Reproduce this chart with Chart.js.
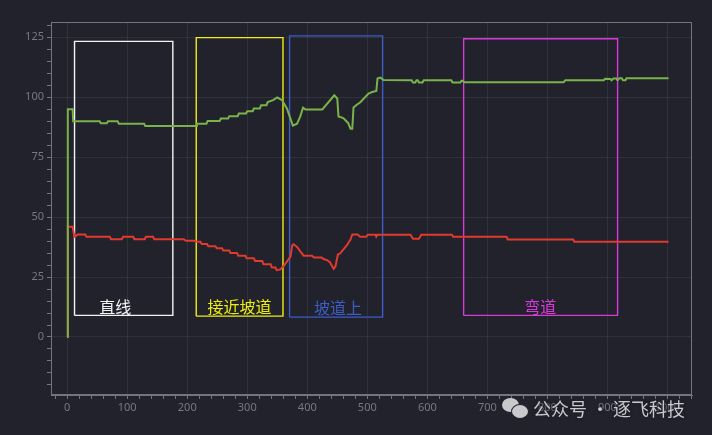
<!DOCTYPE html>
<html>
<head>
<meta charset="utf-8">
<script src="https://cdn.jsdelivr.net/npm/chart.js@4/dist/chart.umd.min.js"></script>
<style>
  html, body { margin: 0; padding: 0; background: #22222d; }
  #wrap { position: relative; width: 712px; height: 435px; }
  #wm { position: absolute; left: 502px; top: 396px; height: 24px; font-family: "Noto Sans CJK SC", sans-serif;
        font-size: 18px; color: #c9c9cc; white-space: nowrap; line-height: 24px; }
  .b1 { position:absolute; left:0; top:2px; width:17px; height:14px; border-radius:50%; background:#c9c9cc; }
  .b2 { position:absolute; left:9px; top:8px; width:16px; height:13px; border-radius:50%; background:#c9c9cc; border:1px solid #22222d; }
  #wmt { position:absolute; left:31px; top:0; text-shadow: 0 0 3px #22222d, 0 0 3px #22222d; }
</style>
</head>
<body>
<div id="wrap">
  <canvas id="c" width="712" height="435"></canvas>
  <div id="wm"><div class="b1"></div><div class="b2"></div><span id="wmt">公众号 · 逐飞科技</span></div>
</div>
<script>
// ---- data ----
const greenX = [0, 1, 9, 10, 54, 56, 66, 68, 84, 86, 128, 130, 215, 216, 232, 234, 254, 256, 268, 270, 284, 286, 298, 300, 309, 311, 321, 323, 332, 334, 343, 350, 358, 366, 376, 383, 388, 393, 397, 425, 445, 450, 452, 460, 468, 472, 475, 477, 483, 488, 502, 508, 515, 517, 522, 527, 574, 576, 580, 582, 584, 586, 592, 594, 640, 642, 655, 657, 659, 661, 827, 830, 894, 896, 905, 907, 910, 915, 917, 920, 924, 926, 930, 932, 1002];
const greenY = [0, 95, 95, 90, 90, 89.2, 89.2, 90, 90, 89, 89, 88, 88, 89, 89, 90.1, 90.1, 91.1, 91.1, 92.1, 92.1, 93.2, 93.2, 94.2, 94.2, 95.3, 95.3, 96.7, 96.7, 98, 98.8, 99.9, 98.8, 95.3, 88.2, 89, 91.8, 95.7, 94.9, 94.9, 100.8, 99.5, 92, 91.3, 89.3, 86.9, 86.9, 95.7, 97, 97.8, 101.5, 102.2, 102.6, 107.8, 108.2, 107.2, 107.1, 106.2, 106.2, 107.1, 107.1, 106.2, 106.2, 107.1, 107.1, 106.2, 106.2, 106.9, 106.9, 106.3, 106.3, 107.1, 107.1, 107.7, 107.6, 107.1, 107.8, 107.8, 107.1, 107.9, 107.9, 107.1, 107.1, 107.9, 107.9];

const redX = [0, 1, 9, 12, 18, 30, 32, 71, 73, 91, 93, 110, 112, 129, 131, 143, 145, 194, 198, 212, 216, 222, 224, 233, 235, 247, 249, 258, 260, 270, 272, 283, 285, 297, 299, 311, 313, 325, 327, 339, 341, 347, 349, 355, 361, 372, 375, 377, 383, 388, 394, 408, 411, 424, 427, 433, 438, 444, 447, 451, 455, 466, 472, 475, 484, 488, 498, 501, 514, 515, 517, 572, 576, 586, 590, 641, 643, 732, 734, 843, 845, 1002];
const redY = [0, 46, 46, 41.8, 42.8, 42.8, 41.8, 41.8, 40.8, 40.8, 41.8, 41.8, 40.8, 40.8, 41.8, 41.8, 40.8, 40.8, 40.1, 40.1, 39.7, 39.7, 38.8, 38.8, 37.9, 37.9, 37, 37, 36.1, 36.1, 35, 35, 33.9, 33.9, 32.8, 32.8, 31.7, 31.7, 30.3, 30.3, 29, 29, 27.9, 28.2, 29.7, 33.5, 38.3, 38.7, 37.6, 35.8, 33.9, 33.9, 33.2, 33.2, 32.5, 32.1, 31.1, 28.4, 29.5, 34.4, 34.9, 38.3, 40.6, 42.8, 42.8, 41.8, 41.8, 42.7, 42.7, 41.9, 42.7, 42.7, 41, 41, 42.7, 42.7, 41.8, 41.8, 40.7, 40.7, 39.7, 39.7];

const regionNames = ['直线', '接近坡道', '坡道上', '弯道'];
const regionX0 = [12.2, 215, 370.5, 660.5];
const regionX1 = [176, 359.5, 525.5, 917];
const regionY0 = [9, 8.7, 8.3, 9];
const regionY1 = [123.3, 124.9, 125.6, 124.4];
const labelX = [80, 287, 451, 788];
const labelY = [12.4, 12.4, 12.1, 12.4];

const xTickStep = 20, xLabelStep = 100;
const yTickStep = 5, yLabelStep = 25;

// ---- styles ----
const regionColors = ['#f4f4f4', '#eeee10', '#3c5cc6', '#d83ad8'];
const textColors = ['#f4f4f4', '#eeee10', '#3c5cc6', '#d83ad8'];
const axisColor = '#74747e';
const gridColor = 'rgba(255,255,255,0.07)';
const tickLabelColor = '#787884';

const datasets = [
  { data: greenX.map((x, i) => ({ x, y: greenY[i] })), borderColor: '#79b34a', borderWidth: 2 },
  { data: redX.map((x, i) => ({ x, y: redY[i] })), borderColor: '#e23a2e', borderWidth: 2 }
];
regionNames.forEach((n, i) => {
  datasets.push({
    data: [
      { x: regionX0[i], y: regionY0[i] }, { x: regionX1[i], y: regionY0[i] },
      { x: regionX1[i], y: regionY1[i] }, { x: regionX0[i], y: regionY1[i] },
      { x: regionX0[i], y: regionY0[i] }
    ],
    borderColor: regionColors[i], borderWidth: 1.4
  });
});

const frame = {
  id: 'frame',
  beforeDraw(chart) {
    const c = chart.ctx;
    c.save();
    c.fillStyle = '#22222d';
    c.fillRect(0, 0, chart.width, chart.height);
    c.restore();
  },
  afterDatasetsDraw(chart) {
    const c = chart.ctx, a = chart.chartArea;
    const xs = chart.scales.x, ys = chart.scales.y;
    c.save();
    c.strokeStyle = axisColor; c.lineWidth = 1;
    c.strokeRect(Math.round(a.left) + 0.5, Math.round(a.top) + 0.5, Math.round(a.right - a.left) - 1, Math.round(a.bottom - a.top) - 1);
    c.font = '16px "Noto Sans CJK SC"';
    c.textAlign = 'center'; c.textBaseline = 'middle';
    regionNames.forEach((n, i) => {
      c.fillStyle = textColors[i];
      c.fillText(n, xs.getPixelForValue(labelX[i]), ys.getPixelForValue(labelY[i]));
    });
    c.restore();
  }
};

new Chart(document.getElementById('c'), {
  type: 'scatter',
  data: { datasets },
  options: {
    responsive: false, animation: false,
    showLine: true,
    elements: { point: { radius: 0, hoverRadius: 0 }, line: { tension: 0, fill: false } },
    layout: { padding: { left: 0, top: 22, right: 20, bottom: 0 } },
    plugins: { legend: { display: false }, tooltip: { enabled: false } },
    scales: {
      x: {
        type: 'linear', min: -27, max: 1041,
        afterFit(s) { s.height = 40; },
        border: { color: axisColor },
        grid: {
          color: ctx => (ctx.tick && ctx.tick.value % xLabelStep === 0) ? gridColor : 'transparent',
          tickColor: axisColor, tickLength: 4
        },
        ticks: {
          stepSize: xTickStep, includeBounds: false, autoSkip: false, maxRotation: 0,
          color: tickLabelColor, font: { family: 'Noto Sans', size: 11 }, padding: 2,
          callback: v => (v % xLabelStep === 0 ? String(v) : '')
        }
      },
      y: {
        type: 'linear', min: -24.2, max: 131.4,
        afterFit(s) { s.width = 51; },
        border: { color: axisColor },
        grid: {
          color: ctx => (ctx.tick && ctx.tick.value % yLabelStep === 0) ? gridColor : 'transparent',
          tickColor: axisColor, tickLength: 4
        },
        ticks: {
          stepSize: yTickStep, includeBounds: false, autoSkip: false,
          color: tickLabelColor, font: { family: 'Noto Sans', size: 11 }, padding: 3,
          callback: v => (v % yLabelStep === 0 ? String(v) : '')
        }
      }
    }
  },
  plugins: [frame]
});
</script>
</body>
</html>
